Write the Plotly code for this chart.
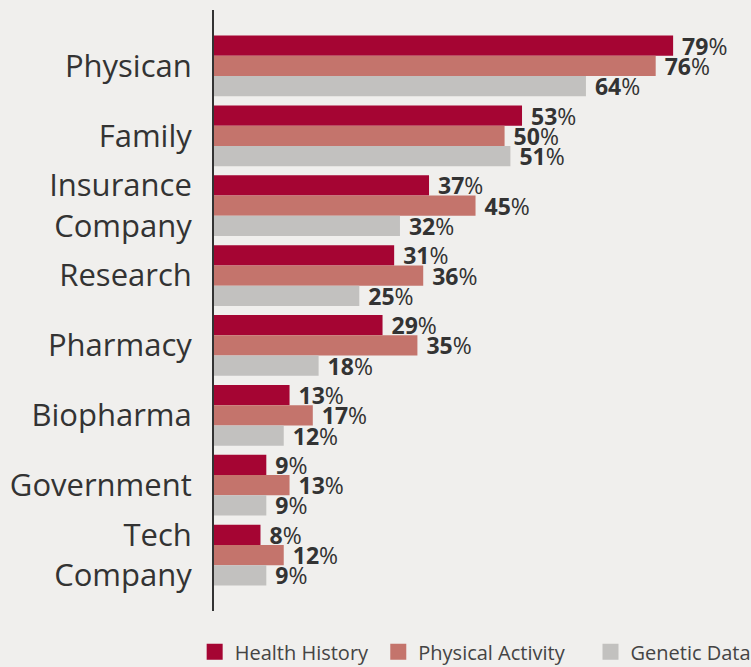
import plotly.graph_objects as go

categories = ["Physican", "Family", "Insurance<br>Company", "Research", "Pharmacy",
              "Biopharma", "Government", "Tech<br>Company"]
health_history = [79, 53, 37, 31, 29, 13, 9, 8]
physical_activity = [76, 50, 45, 36, 35, 17, 13, 12]
genetic_data = [64, 51, 32, 25, 18, 12, 9, 9]
legend_names = ["Health History" + "\u00a0", "Physical Activity" + "\u00a0" * 4, "Genetic Data"]

series = [
    ("Health History", health_history, "#a50533"),
    ("Physical Activity", physical_activity, "#c4746c"),
    ("Genetic Data", genetic_data, "#c2c1bf"),
]

FONT = "Open Sans"
fig = go.Figure()
for name, vals, color in series:
    fig.add_trace(go.Bar(
        y=categories, x=vals, name=name, orientation="h",
        marker=dict(color=color, line=dict(width=0)),
        text=[f" <b>{v}</b>%" for v in vals],
        textposition="outside",
        textfont=dict(family=FONT, size=23, color="#333333"),
        constraintext="none",
        cliponaxis=False,
        showlegend=False,
    ))
# legend entries with larger square swatches
for (name, vals, color), lname in zip(series, legend_names):
    fig.add_trace(go.Scatter(
        x=[None], y=[None], mode="markers", name=lname,
        marker=dict(symbol="square", size=16, color=color),
        showlegend=True,
    ))

fig.update_layout(
    width=751, height=667,
    paper_bgcolor="#f0efed", plot_bgcolor="#f0efed",
    barmode="group", bargap=0.13, bargroupgap=0,
    margin=dict(l=214, r=0, t=10, b=56, autoexpand=False),
    font=dict(family=FONT, color="#333333"),
    showlegend=True,
    legend=dict(orientation="h", x=-0.036, xanchor="left", y=-0.068, yanchor="middle",
                itemsizing="trace",
                font=dict(family=FONT, size=20, color="#444444"),
                bgcolor="rgba(0,0,0,0)"),
    xaxis=dict(range=[0, 92.4], visible=False, showgrid=False, zeroline=False),
    yaxis=dict(type="category", range=[7.8, -0.8], showline=True, linecolor="#333333",
               linewidth=2, showgrid=False, zeroline=False, ticks="",
               ticklabelstandoff=14,
               tickfont=dict(family=FONT, size=31, color="#333333")),
)

fig.write_html("out.html", config={"displayModeBar": False},
               post_script="document.body.style.margin='0';document.body.style.background='#f0efed';")
